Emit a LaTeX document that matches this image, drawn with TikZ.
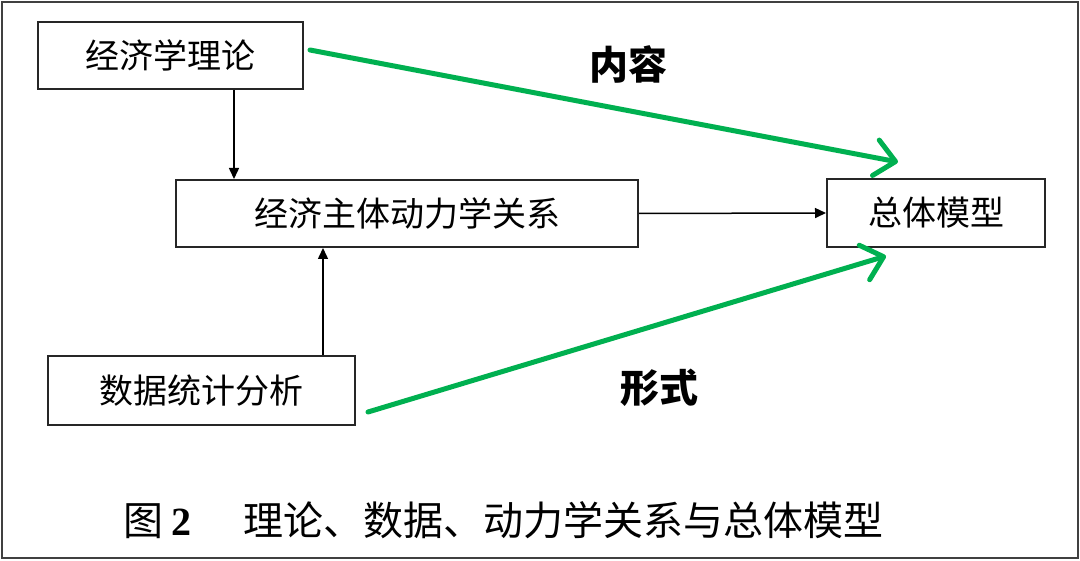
\documentclass[tikz,border=0pt]{standalone}
\usepackage{fontspec}
\setmainfont{Liberation Serif}
\newfontfamily\cjk{Noto Sans CJK SC}
\usetikzlibrary{arrows.meta}
\definecolor{grn}{RGB}{0,176,80}
\begin{document}
\begin{tikzpicture}[x=1pt,y=-1pt,
  box/.style={draw=black!85,line width=2pt,inner sep=0pt,font=\cjk\fontsize{34}{36}\selectfont},
  blkarr/.style={line width=1.5pt,-{Triangle[length=11pt,width=10pt]}},
  grnarr/.style={draw=grn,line width=5pt,line cap=round,line join=round,-{Straight Barb[length=20pt,width=36pt,line join=round,round]}},
  lbl/.style={font=\cjk\bfseries\fontsize{39}{41}\selectfont,inner sep=0pt}]
\useasboundingbox (0,0) rectangle (1080,561);
\draw[black!75,line width=2.5pt] (2,2) rectangle (1078,558);
\node[box,minimum width=265pt,minimum height=67pt] (econ) at (170.5,55.5) {经济学理论};
\node[box,minimum width=462pt,minimum height=67pt] (dyn) at (407,213.5) {经济主体动力学关系};
\node[box,minimum width=218pt,minimum height=68pt] (model) at (936,213) {总体模型};
\node[box,minimum width=307pt,minimum height=69pt] (data) at (201.5,390.5) {数据统计分析};
\draw[blkarr] ([xshift=63.5pt]econ.south) -- ([xshift=63.5pt]econ.south |- dyn.north);
\draw[blkarr] ([xshift=121.5pt]data.north) -- ([xshift=121.5pt]data.north |- dyn.south);
\draw[blkarr] (dyn.east) -- (model.west);
\coordinate (g1s) at (310,50);
\coordinate (g1e) at (898,162);
\coordinate (g2s) at (368,412);
\coordinate (g2e) at (886,256);
\draw[grnarr] (g1s) -- (g1e);
\draw[grnarr] (g2s) -- (g2e);
\node[lbl] (content) at (628,64) {内容};
\node[lbl] (form) at (659,388) {形式};
\node[anchor=west,inner sep=0pt,font=\cjk\fontsize{40}{42}\selectfont] (cap) at (123,520)
  {图\hspace{8pt}{\rmfamily\bfseries 2}\hspace{52pt}理论、数据、动力学关系与总体模型};
\end{tikzpicture}
\end{document}
